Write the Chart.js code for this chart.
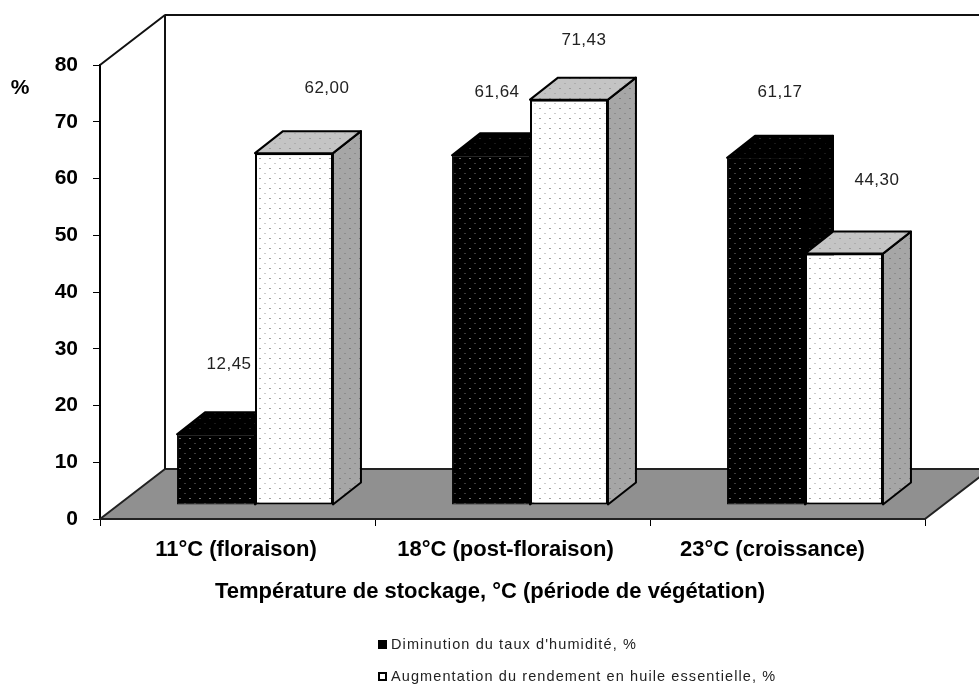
<!DOCTYPE html>
<html>
<head>
<meta charset="utf-8">
<style>
  body { margin: 0; background: #fff; }
  canvas { display: block; }
</style>
<script src="https://cdn.jsdelivr.net/npm/chart.js@4"></script>
</head>
<body>
<canvas id="myChart" width="979" height="685"></canvas>
<script>
const categories = ["11°C (floraison)", "18°C (post-floraison)", "23°C (croissance)"];
const humidite = [12.45, 61.64, 61.17];
const rendement = [62.0, 71.43, 44.3];
const humiditeLabel = "Diminution du taux d'humidité, %";
const rendementLabel = "Augmentation du rendement en huile essentielle, %";
const xTitle = "Température de stockage, °C (période de végétation)";
const yUnit = "%";

// where the source picture puts its labels, relative to each bar
const humiditeLabelShift = [[13, -70], [6, -63], [14, -66]];
const rendementLabelShift = [[33, -65], [15, -59], [33, -73]];
const tickShift = [-1.5, -7, -15];

const BAR_DX = 17.5, BAR_DY = -14;   // bars stand in the middle of the floor
const BAR_DEPTH_X = 28, BAR_DEPTH_Y = -22;
const WALL_DX = 65, WALL_DY = -50;

function dots(bg, strong, faint) {
  const c = document.createElement("canvas");
  c.width = 10;
  c.height = 10;
  const g = c.getContext("2d");
  g.fillStyle = bg;
  g.fillRect(0, 0, 10, 10);
  g.fillStyle = strong;
  g.fillRect(2, 2, 1, 1);
  g.fillStyle = faint;
  g.fillRect(7, 7, 1, 1);
  return g.createPattern(c, "repeat");
}

const blackFront = dots("#000", "#ddd", "#777");
const blackSide = dots("#000", "#555", "#333");
const whiteFront = dots("#fff", "#444", "#999");
const whiteTop = dots("#c4c4c4", "#777", "#999");
const whiteSide = dots("#a6a6a6", "#555", "#777");

function poly(ctx, pts, fill, stroke, width) {
  ctx.beginPath();
  pts.forEach((p, i) => (i ? ctx.lineTo(p[0], p[1]) : ctx.moveTo(p[0], p[1])));
  ctx.closePath();
  ctx.fillStyle = fill;
  ctx.fill();
  if (stroke) {
    ctx.strokeStyle = stroke;
    ctx.lineWidth = width;
    ctx.lineJoin = "round";
    ctx.stroke();
  }
}

// side and top faces first, then the library's own bar as the front face
function drawBars(chart, index) {
  const ctx = chart.ctx;
  const meta = chart.getDatasetMeta(index);
  ctx.save();
  ctx.translate(BAR_DX, BAR_DY);
  meta.data.forEach(bar => {
    const l = bar.x - bar.width / 2, r = bar.x + bar.width / 2;
    const t = bar.y, b = bar.base;
    poly(ctx, [[r, t], [r + BAR_DEPTH_X, t + BAR_DEPTH_Y], [r + BAR_DEPTH_X, b + BAR_DEPTH_Y], [r, b]],
      index === 0 ? blackSide : whiteSide, "#000", 2);
    poly(ctx, [[l, t], [l + BAR_DEPTH_X, t + BAR_DEPTH_Y], [r + BAR_DEPTH_X, t + BAR_DEPTH_Y], [r, t]],
      index === 0 ? blackSide : whiteTop, "#000", 2);
  });
  meta.controller.draw();
  ctx.restore();
}

const wallsAndBars = {
  id: "wallsAndBars",
  beforeDraw(chart) {
    // move the category labels to where the source has them
    const x = chart.scales.x;
    x.getLabelItems().forEach((item, i) => {
      item.options.translation[0] = x.getPixelForTick(i) + tickShift[i];
    });
  },
  beforeDatasetsDraw(chart) {
    const ctx = chart.ctx;
    const { left, right, top, bottom } = chart.chartArea;
    ctx.save();
    poly(ctx, [[left, bottom], [left + WALL_DX, bottom + WALL_DY], [right + WALL_DX, bottom + WALL_DY], [right, bottom]], "#909090", "#222", 2);
    ctx.strokeStyle = "#111";
    ctx.lineWidth = 2;
    ctx.beginPath();
    ctx.moveTo(left, top);
    ctx.lineTo(left + WALL_DX, top + WALL_DY);
    ctx.lineTo(left + WALL_DX, bottom + WALL_DY);
    ctx.moveTo(left + WALL_DX, top + WALL_DY);
    ctx.lineTo(right + WALL_DX, top + WALL_DY);
    ctx.stroke();
    ctx.restore();
    // black series goes behind the white one
    drawBars(chart, 0);
    drawBars(chart, 1);
  },
  beforeDatasetDraw() {
    return false;
  },
  afterDatasetsDraw(chart) {
    const ctx = chart.ctx;
    const y = chart.scales.y;
    ctx.save();
    ctx.fillStyle = "#222";
    ctx.font = "17px 'Liberation Sans'";
    ctx.letterSpacing = "0.5px";
    ctx.textAlign = "center";
    ctx.textBaseline = "middle";
    [[humidite, humiditeLabelShift, 0], [rendement, rendementLabelShift, 1]].forEach(([vals, shift, d]) => {
      const meta = chart.getDatasetMeta(d);
      vals.forEach((v, i) => {
        const px = meta.data[i].x + BAR_DX + shift[i][0];
        const py = y.getPixelForValue(v) + BAR_DY + shift[i][1];
        ctx.fillText(v.toFixed(2).replace(".", ","), px, py);
      });
    });

    // unit, axis title and the stacked legend
    ctx.letterSpacing = "0px";
    ctx.fillStyle = "#000";
    ctx.font = "bold 21px 'Liberation Sans'";
    ctx.fillText(yUnit, 20, 88);
    ctx.font = "bold 22px 'Liberation Sans'";
    ctx.fillText(xTitle, 490, 592);

    ctx.textAlign = "left";
    ctx.font = "14.5px 'Liberation Sans'";
    ctx.letterSpacing = "1.1px";
    ctx.fillStyle = "#222";
    ctx.fillText(humiditeLabel, 391, 645);
    ctx.fillText(rendementLabel, 391, 677);
    ctx.letterSpacing = "0px";
    ctx.fillStyle = "#000";
    ctx.fillRect(378, 640, 9, 9);
    ctx.lineWidth = 2;
    ctx.strokeStyle = "#000";
    ctx.fillStyle = "#fff";
    ctx.fillRect(379, 673, 7, 7);
    ctx.strokeRect(379, 673, 7, 7);
    ctx.restore();
  },
};

const data = {
  labels: categories,
  datasets: [
    {
      label: humiditeLabel,
      data: humidite,
      backgroundColor: blackFront,
      borderColor: "#000",
      borderWidth: 1,
      borderSkipped: false,
    },
    {
      label: rendementLabel,
      data: rendement,
      backgroundColor: whiteFront,
      borderColor: "#000",
      borderWidth: 2,
      borderSkipped: false,
    },
  ],
};

const config = {
  type: "bar",
  data: data,
  options: {
    responsive: false,
    animation: false,
    categoryPercentage: 0.567,
    barPercentage: 1,
    layout: { padding: { top: 65, right: 54, left: 0, bottom: 0 } },
    plugins: { legend: { display: false }, tooltip: { enabled: false } },
    scales: {
      x: {
        afterFit: s => { s.height = 166; },
        grid: { drawOnChartArea: false, color: "#000", tickLength: 7, lineWidth: 1 },
        border: { color: "#000", width: 2 },
        ticks: {
          color: "#000",
          font: { family: "'Liberation Sans'", size: 22, weight: "bold" },
          padding: 11,
          maxRotation: 0,
          autoSkip: false,
        },
      },
      y: {
        min: 0,
        max: 80,
        afterFit: s => { s.width = 100; },
        grid: { drawOnChartArea: false, color: "#000", tickLength: 7, lineWidth: 1 },
        border: { color: "#000", width: 2 },
        ticks: {
          stepSize: 10,
          color: "#000",
          font: { family: "'Liberation Sans'", size: 21, weight: "bold" },
          padding: 15,
        },
      },
    },
  },
  plugins: [wallsAndBars],
};

const myChart = new Chart(document.querySelector("#myChart"), config);
</script>
</body>
</html>
